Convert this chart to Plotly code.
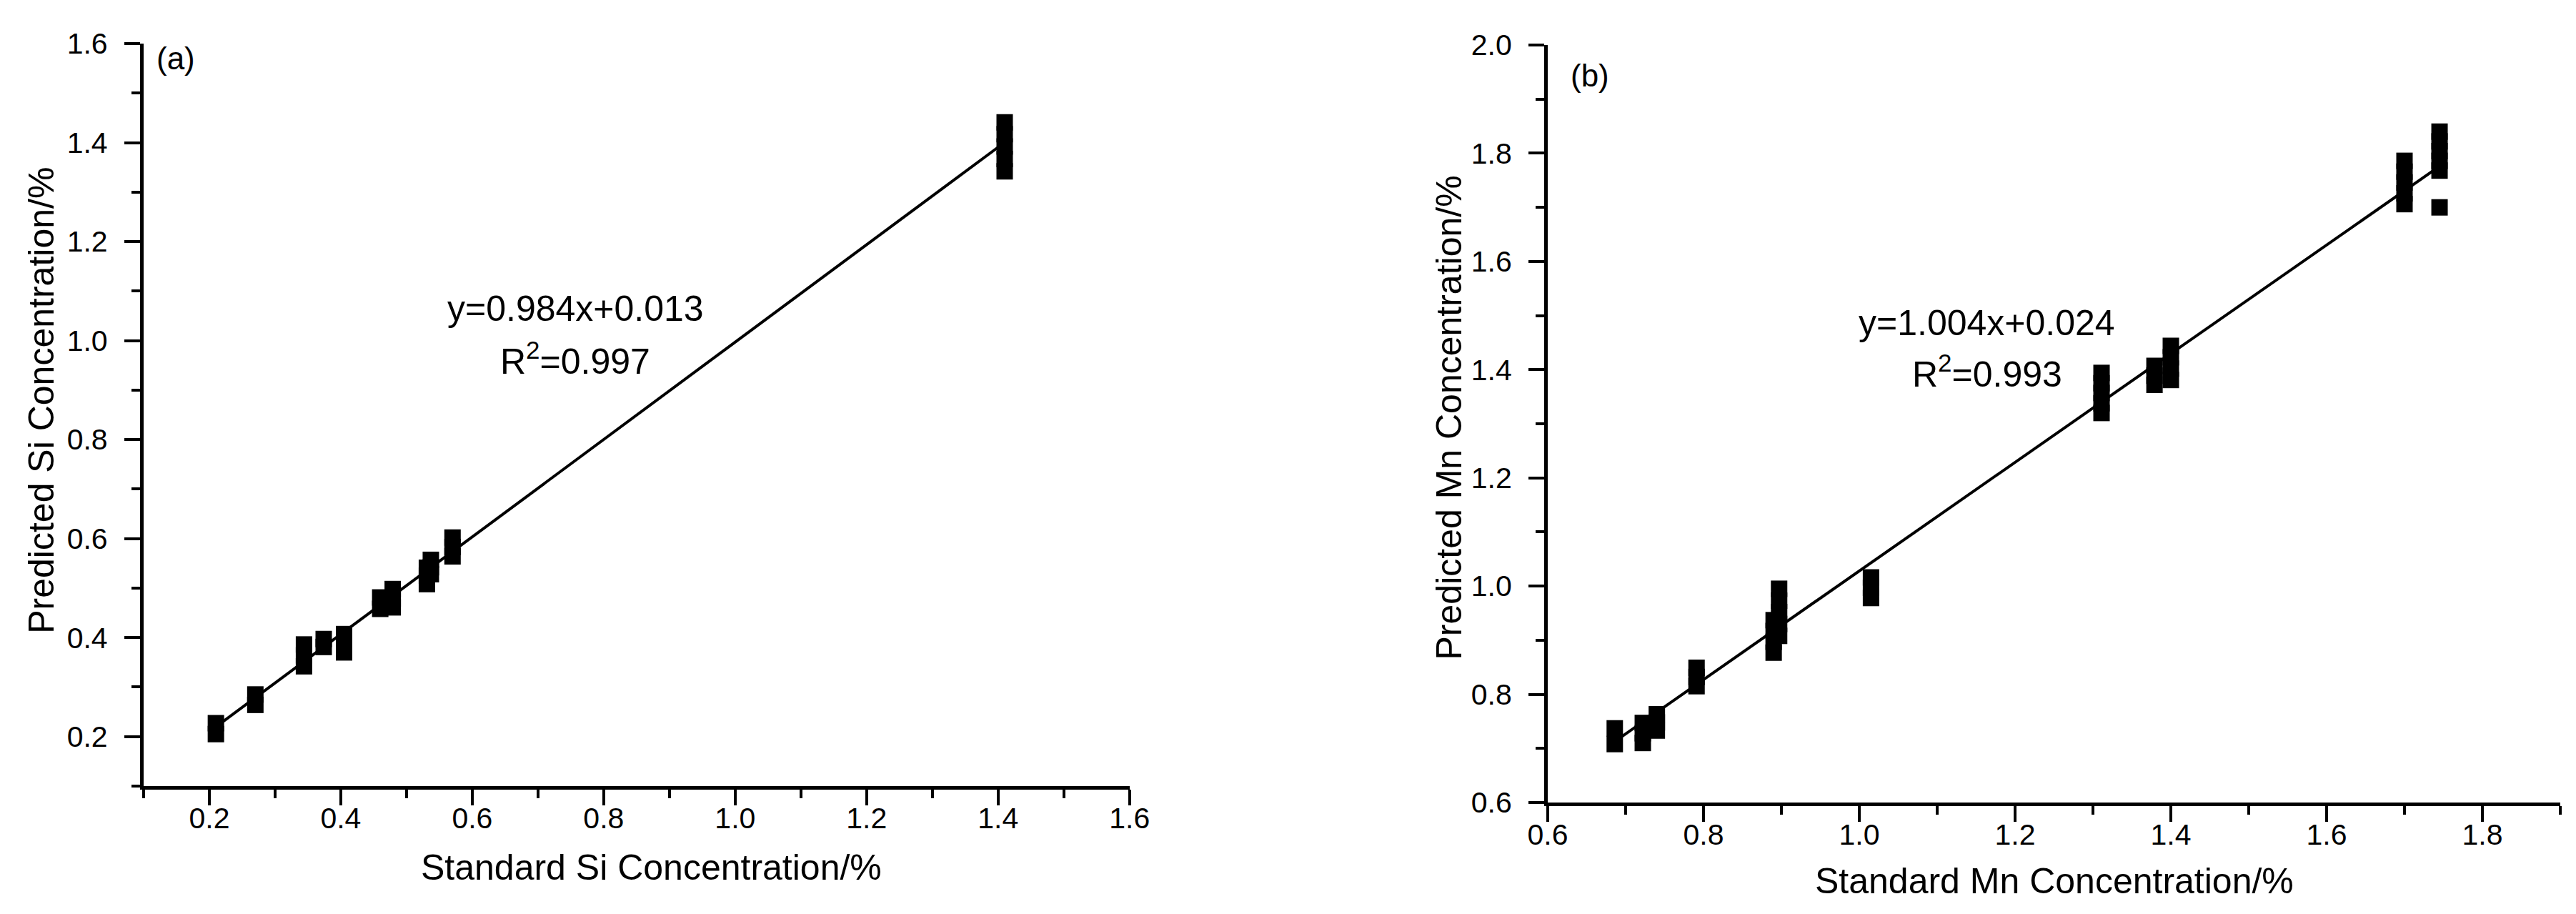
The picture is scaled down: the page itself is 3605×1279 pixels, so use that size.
import plotly.graph_objects as go

# Standard vs. predicted concentration (%).
# Each standard sample was predicted several times, so x values repeat
# and the overlapping squares form the tall bars seen in the plot.
si_standard = [0.21, 0.21,
               0.27, 0.27,
               0.344, 0.344, 0.344,
               0.374, 0.374,
               0.405, 0.405, 0.405,
               0.46, 0.46,
               0.479, 0.479, 0.479,
               0.531, 0.531, 0.531,
               0.537, 0.537, 0.537,
               0.57, 0.57, 0.57,
               1.41, 1.41, 1.41, 1.41, 1.41]
si_predicted = [0.205, 0.227,
                0.264, 0.285,
                0.342, 0.364, 0.386,
                0.381, 0.397,
                0.370, 0.388, 0.407,
                0.458, 0.481,
                0.461, 0.479, 0.498,
                0.508, 0.525, 0.541,
                0.528, 0.542, 0.557,
                0.564, 0.583, 0.602,
                1.342, 1.367, 1.392, 1.417, 1.441]

mn_standard = [0.686, 0.686,
               0.722, 0.722, 0.722,
               0.740, 0.740, 0.740,
               0.791, 0.791, 0.791,
               0.890, 0.890, 0.890, 0.890,
               0.897, 0.897, 0.897, 0.897, 0.897,
               1.015, 1.015, 1.015,
               1.311, 1.311, 1.311, 1.311, 1.311,
               1.379, 1.379, 1.379,
               1.400, 1.400, 1.400, 1.400,
               1.700, 1.700, 1.700, 1.700, 1.700,
               1.745, 1.745, 1.745, 1.745, 1.745, 1.745]
mn_predicted = [0.708, 0.737,
                0.710, 0.728, 0.747,
                0.733, 0.748, 0.763,
                0.815, 0.832, 0.849,
                0.877, 0.897, 0.917, 0.937,
                0.908, 0.930, 0.952, 0.973, 0.995,
                0.978, 0.997, 1.016,
                1.320, 1.338, 1.357, 1.375, 1.394,
                1.372, 1.389, 1.407,
                1.381, 1.402, 1.423, 1.444,
                1.706, 1.726, 1.746, 1.766, 1.786,
                1.700, 1.768, 1.786, 1.804, 1.822, 1.840]

si_fit = {"slope": 0.984, "intercept": 0.013, "r2": 0.997}
mn_fit = {"slope": 1.004, "intercept": 0.024, "r2": 0.993}

FONT = "Arial, Liberation Sans, sans-serif"
BLACK = "#000000"


def fit_line(xs, fit):
    x_ends = [min(xs), max(xs)]
    return x_ends, [fit["slope"] * x + fit["intercept"] for x in x_ends]


def make_axis(rng, tick0, domain, anchor, is_x):
    return dict(
        domain=domain,
        anchor=anchor,
        range=rng,
        tick0=tick0,
        dtick=0.2,
        tickformat=".1f",
        automargin=False,
        showline=True,
        linecolor=BLACK,
        linewidth=5,
        ticks="outside",
        ticklen=22,
        tickwidth=4,
        tickcolor=BLACK,
        tickfont=dict(family=FONT, size=41, color=BLACK),
        minor=dict(dtick=0.1, tick0=tick0 - 0.1, ticks="outside",
                   ticklen=12, tickwidth=4, tickcolor=BLACK),
        showgrid=False,
        zeroline=False,
        ticklabelstandoff=-17 if is_x else 15,
    )


fig = go.Figure()

# Panel (a): Si
fx, fy = fit_line(si_standard, si_fit)
fig.add_trace(go.Scatter(x=fx, y=fy, mode="lines", xaxis="x", yaxis="y",
                         line=dict(color=BLACK, width=4), showlegend=False))
fig.add_trace(go.Scatter(x=si_standard, y=si_predicted, mode="markers",
                         xaxis="x", yaxis="y", showlegend=False,
                         marker=dict(symbol="square", size=23, color=BLACK)))

# Panel (b): Mn
fx, fy = fit_line(mn_standard, mn_fit)
fig.add_trace(go.Scatter(x=fx, y=fy, mode="lines", xaxis="x2", yaxis="y2",
                         line=dict(color=BLACK, width=4), showlegend=False))
fig.add_trace(go.Scatter(x=mn_standard, y=mn_predicted, mode="markers",
                         xaxis="x2", yaxis="y2", showlegend=False,
                         marker=dict(symbol="square", size=23, color=BLACK)))

fig.update_layout(
    width=3605,
    height=1279,
    margin=dict(l=0, r=0, t=0, b=0, autoexpand=False),
    paper_bgcolor="white",
    plot_bgcolor="white",
    font=dict(family=FONT, color=BLACK),
    xaxis=make_axis([0.0999, 1.6001], 0.2, [0.0535, 0.4363], "y", True),
    yaxis=make_axis([0.0999, 1.6001], 0.2, [0.1462, 0.9586], "x", False),
    xaxis2=make_axis([0.5999, 1.9001], 0.6, [0.5986, 0.9917], "y2", True),
    yaxis2=make_axis([0.5999, 2.0001], 0.6, [0.1282, 0.9570], "x2", False),
)

# axis titles, placed in paper space
titles = [
    dict(x=0.2505, y=0.0571, text="Standard Si Concentration/%", textangle=0),
    dict(x=0.7953, y=0.0422, text="Standard Mn Concentration/%", textangle=0),
    dict(x=0.0138, y=0.5684, text="Predicted Si Concentration/%", textangle=-90),
    dict(x=0.5602, y=0.5489, text="Predicted Mn Concentration/%", textangle=-90),
]
for t in titles:
    fig.add_annotation(**t, xref="paper", yref="paper", showarrow=False,
                       xanchor="center", yanchor="middle",
                       font=dict(family=FONT, size=50, color=BLACK))

notes = [
    dict(x=0.757, y=1.065, xref="x", yref="y",
         text=f"y={si_fit['slope']:.3f}x+{si_fit['intercept']:.3f}"),
    dict(x=0.757, y=0.963, xref="x", yref="y",
         text=f"R<sup>2</sup>={si_fit['r2']:.3f}"),
    dict(x=1.164, y=1.486, xref="x2", yref="y2",
         text=f"y={mn_fit['slope']:.3f}x+{mn_fit['intercept']:.3f}"),
    dict(x=1.164, y=1.396, xref="x2", yref="y2",
         text=f"R<sup>2</sup>={mn_fit['r2']:.3f}"),
    dict(x=0.033, y=0.980, xref="x domain", yref="y domain", text="(a)"),
    dict(x=0.042, y=0.960, xref="x2 domain", yref="y2 domain", text="(b)"),
]
for n in notes:
    size = 44 if n["text"].startswith("(") else 50
    fig.add_annotation(**n, showarrow=False, xanchor="center", yanchor="middle",
                       font=dict(family=FONT, size=size, color=BLACK))

fig.write_html("out.html")
